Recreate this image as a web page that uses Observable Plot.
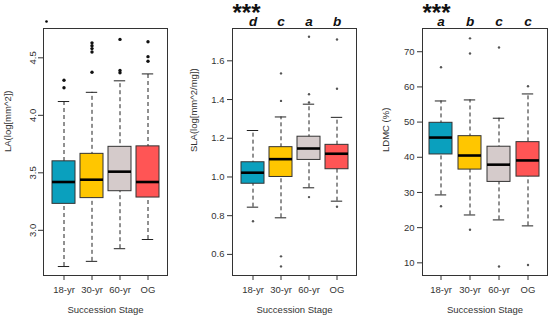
<!DOCTYPE html>
<html>
<head>
<meta charset="utf-8">
<script src="https://cdn.jsdelivr.net/npm/d3@7"></script>
<script src="https://cdn.jsdelivr.net/npm/@observablehq/plot@0.6"></script>
<style>
  html, body { margin: 0; padding: 0; background: #fff; }
  #wrap { position: relative; width: 550px; height: 321px; overflow: hidden; }
  #wrap svg { position: absolute; top: 0; }
</style>
</head>
<body>
<div id="wrap"></div>
<script>
// ---- Data ----
const stages = ["18-yr", "30-yr", "60-yr", "OG"];
const stageColors = ["#0AA0BE", "#FFC600", "#D5CBCB", "#FF5555"];
const xLabel = "Succession Stage";

// Panel 1: LA
const laLabel = "LA(log[mm^2])";
const laTicks = [3.0, 3.5, 4.0, 4.5];
const laLo  = [2.685, 2.73, 2.84, 2.92];
const laQ1  = [3.23, 3.28, 3.34, 3.285];
const laMed = [3.42, 3.44, 3.51, 3.42];
const laQ3  = [3.60, 3.665, 3.726, 3.73];
const laHi  = [4.12, 4.20, 4.30, 4.36];
const laOutStage = ["18-yr","18-yr","30-yr","30-yr","30-yr","30-yr","30-yr","60-yr","60-yr","60-yr","OG","OG","OG"];
const laOutValue = [4.24, 4.305, 4.375, 4.55, 4.58, 4.605, 4.63, 4.37, 4.39, 4.66, 4.47, 4.51, 4.64];

// Panel 2: SLA
const slaLabel = "SLA(log[mm^2/mg])";
const slaTicks = [0.6, 0.8, 1.0, 1.2, 1.4, 1.6];
const slaLo  = [0.844, 0.789, 0.944, 0.875];
const slaQ1  = [0.965, 1.00, 1.088, 1.04];
const slaMed = [1.022, 1.092, 1.147, 1.12];
const slaQ3  = [1.076, 1.154, 1.208, 1.166];
const slaHi  = [1.24, 1.31, 1.376, 1.308];
const slaOutStage = ["18-yr","30-yr","30-yr","30-yr","30-yr","60-yr","60-yr","60-yr","60-yr","OG","OG","OG"];
const slaOutValue = [0.771, 1.393, 1.535, 0.59, 0.538, 1.385, 1.427, 1.724, 0.896, 1.456, 1.71, 0.846];
const slaLetters = ["d", "c", "a", "b"];

// Panel 3: LDMC
const ldmcLabel = "LDMC (%)";
const ldmcTicks = [10, 20, 30, 40, 50, 60, 70];
const ldmcLo  = [29.3, 23.6, 22.2, 20.5];
const ldmcQ1  = [40.8, 36.5, 33.0, 34.5];
const ldmcMed = [45.6, 40.5, 37.9, 39.1];
const ldmcQ3  = [49.8, 46.0, 43.0, 44.3];
const ldmcHi  = [56.0, 56.3, 51.1, 58.0];
const ldmcOutStage = ["18-yr","18-yr","30-yr","30-yr","30-yr","60-yr","60-yr","OG","OG"];
const ldmcOutValue = [65.6, 26.1, 69.5, 73.8, 19.4, 71.2, 8.95, 60.2, 9.4];
const ldmcLetters = ["a", "b", "c", "c"];

const sigStars = "***";

// ---- Drawing ----
function panel(cfg) {
  const rows = stages.map((s, i) => ({
    stage: s, lo: cfg.lo[i], q1: cfg.q1[i], med: cfg.med[i], q3: cfg.q3[i], hi: cfg.hi[i]
  }));
  const outs = cfg.outStage.map((s, i) => ({stage: s, v: cfg.outValue[i]}));
  const marks = [
    Plot.ruleX(rows, {x: "stage", y1: "lo", y2: "hi", stroke: "#222", strokeWidth: 1, strokeDasharray: "4,3"}),
    Plot.tickY(rows, {x: "stage", y: "lo", stroke: "#222", strokeWidth: 1, inset: 5.8}),
    Plot.tickY(rows, {x: "stage", y: "hi", stroke: "#222", strokeWidth: 1, inset: 5.8}),
    Plot.barY(rows, {x: "stage", y1: "q1", y2: "q3", fill: "stage", stroke: "#333", strokeWidth: 1}),
    Plot.tickY(rows, {x: "stage", y: "med", stroke: "#000", strokeWidth: 2.6}),
    Plot.dot(outs, {x: "stage", y: "v", r: cfg.dotR, fill: cfg.dotFill, stroke: "none"}),
    Plot.axisY({ticks: cfg.ticks, tickSize: 5, tickPadding: 3, label: null,
      tickFormat: cfg.tickFormat, tickRotate: cfg.rotate, fill: "#333"}),
    Plot.axisX({tickSize: 5, tickPadding: 6, label: null, fill: "#333"}),
    Plot.text([cfg.yLabel], {frameAnchor: "left", rotate: -90, dx: cfg.yLabelDx, fill: "#333", fontSize: 9.5}),
    Plot.text([xLabel], {frameAnchor: "bottom", dy: 37, fill: "#333", fontSize: 9.5}),
    Plot.frame({stroke: "#333", strokeWidth: 1})
  ];
  if (cfg.letters) {
    marks.push(Plot.text(rows, {x: "stage", text: (d, i) => cfg.letters[i], frameAnchor: "top", dy: -12,
      fontSize: 13.5, fontWeight: "bold", fontStyle: "italic", fill: "#111"}));
    marks.push(Plot.text([sigStars], {frameAnchor: "top-left", textAnchor: "start", lineAnchor: "top",
      dy: -25, dx: 0, fontSize: 24, fontWeight: "bold", fill: "#111"}));
  }
  if (cfg.stray) {
    marks.push(Plot.dot([0], {frameAnchor: "top-left", dx: 3, dy: -7, r: 1.3, fill: "#000"}));
  }
  const svg = Plot.plot({
    width: cfg.width, height: 321,
    marginLeft: cfg.ml, marginRight: cfg.mr, marginTop: 28, marginBottom: 46,
    style: {fontFamily: "'Liberation Sans', Arial, sans-serif", fontSize: "9.5px", background: "white", color: "#333"},
    x: {domain: stages, paddingInner: 0.19, paddingOuter: 0.25, align: 0.5},
    y: {domain: cfg.domain},
    color: {domain: stages, range: stageColors},
    marks
  });
  svg.style.left = cfg.left + "px";
  document.getElementById("wrap").appendChild(svg);
}

panel({left: 0, width: 183, ml: 43, mr: 16, domain: [2.607, 4.755],
  lo: laLo, q1: laQ1, med: laMed, q3: laQ3, hi: laHi, outStage: laOutStage, outValue: laOutValue,
  ticks: laTicks, tickFormat: d3.format(".1f"), rotate: -90, yLabel: laLabel, yLabelDx: -36,
  dotR: 1.7, dotFill: "#111", stray: true});

panel({left: 183, width: 183, ml: 49, mr: 10, domain: [0.491, 1.767],
  lo: slaLo, q1: slaQ1, med: slaMed, q3: slaQ3, hi: slaHi, outStage: slaOutStage, outValue: slaOutValue,
  ticks: slaTicks, tickFormat: d3.format(".1f"), rotate: 0, yLabel: slaLabel, yLabelDx: -39,
  dotR: 1.2, dotFill: "#555", letters: slaLetters});

panel({left: 366, width: 184, ml: 56, mr: 3, domain: [6.4, 76.6],
  lo: ldmcLo, q1: ldmcQ1, med: ldmcMed, q3: ldmcQ3, hi: ldmcHi, outStage: ldmcOutStage, outValue: ldmcOutValue,
  ticks: ldmcTicks, tickFormat: d3.format("d"), rotate: 0, yLabel: ldmcLabel, yLabelDx: -37,
  dotR: 1.2, dotFill: "#555", letters: ldmcLetters});
</script>
</body>
</html>
